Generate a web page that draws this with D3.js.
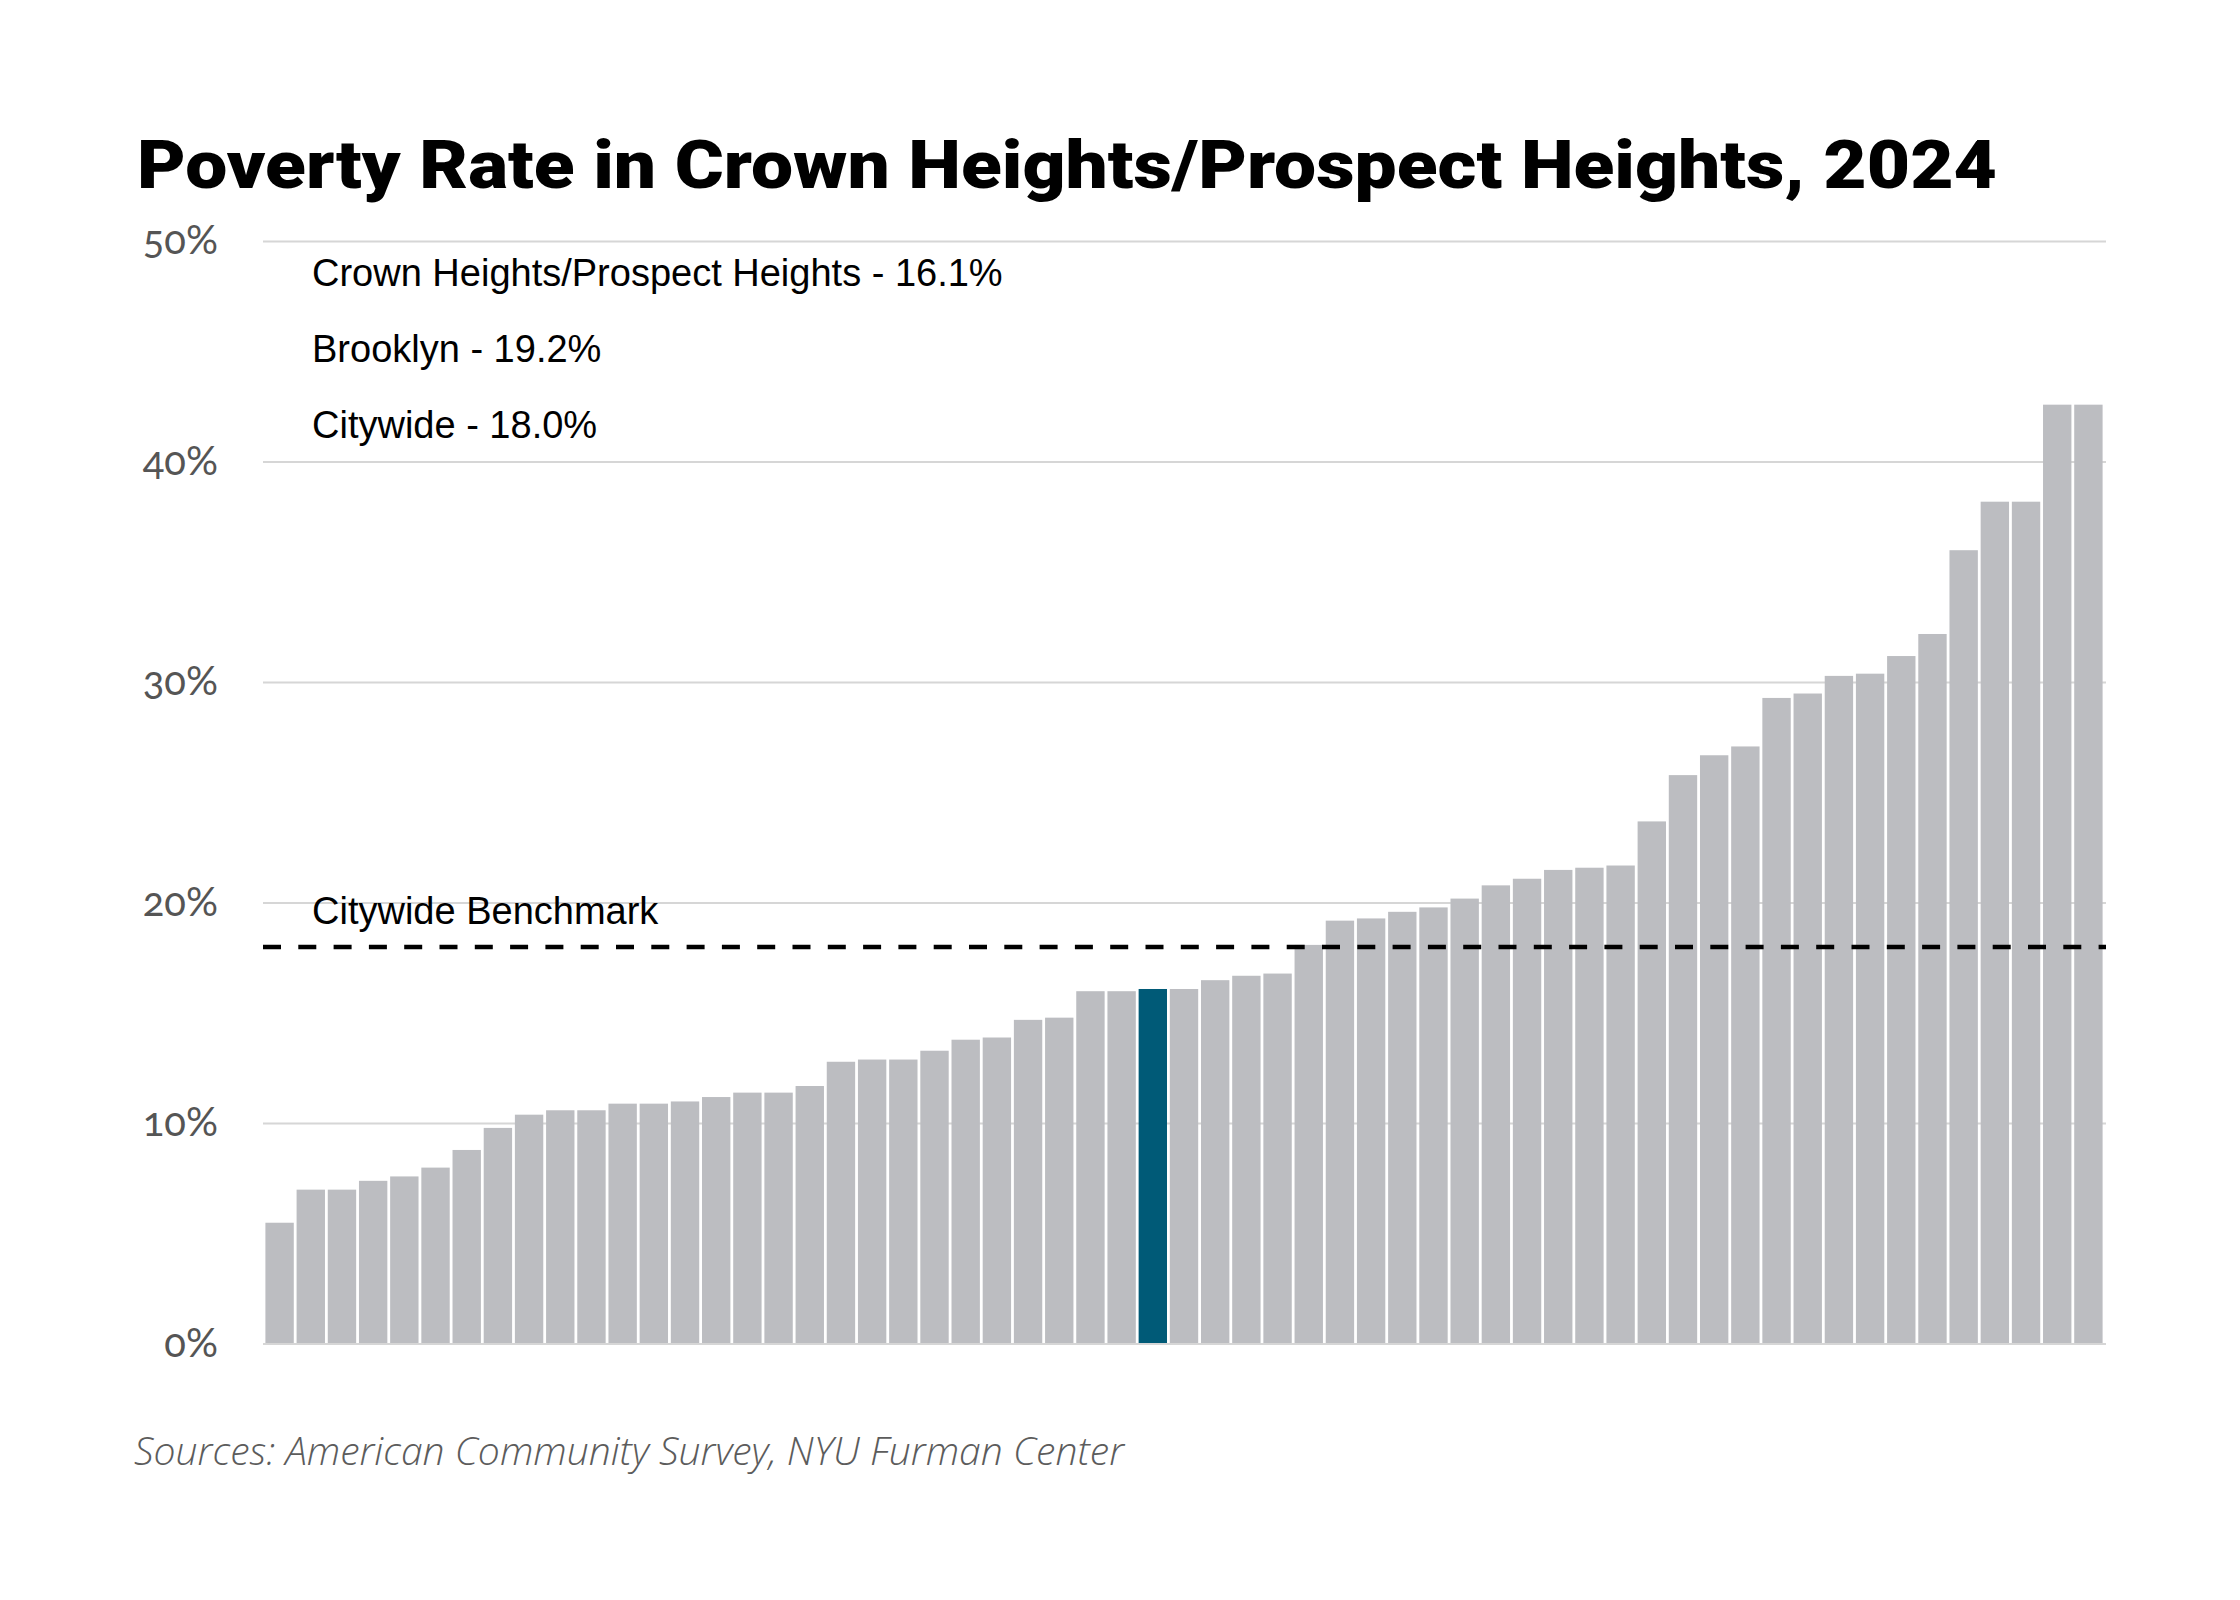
<!DOCTYPE html>
<html>
<head>
<meta charset="utf-8">
<script src="https://cdn.jsdelivr.net/npm/d3@7"></script>
<style>
  html, body { margin: 0; padding: 0; background: #fff; }
  svg { display: block; }
</style>
</head>
<body>
<svg id="chart" width="2240" height="1600"></svg>
<script>
// Poverty rate by community district, sorted ascending (percent)
const rates = [
  5.5, 7.0, 7.0, 7.4, 7.6, 8.0, 8.8, 9.8, 10.4, 10.6,
  10.6, 10.9, 10.9, 11.0, 11.2, 11.4, 11.4, 11.7, 12.8, 12.9,
  12.9, 13.3, 13.8, 13.9, 14.7, 14.8, 16.0, 16.0, 16.1, 16.1,
  16.5, 16.7, 16.8, 18.1, 19.2, 19.3, 19.6, 19.8, 20.2, 20.8,
  21.1, 21.5, 21.6, 21.7, 23.7, 25.8, 26.7, 27.1, 29.3, 29.5,
  30.3, 30.4, 31.2, 32.2, 36.0, 38.2, 38.2, 42.6, 42.6
];
const highlightIndex = 28; // Crown Heights/Prospect Heights
const benchmark = 18.0;
const yTicks = [0, 10, 20, 30, 40, 50];
const legendLines = [
  "Crown Heights/Prospect Heights - 16.1%",
  "Brooklyn - 19.2%",
  "Citywide - 18.0%"
];
const title = "Poverty Rate in Crown Heights/Prospect Heights, 2024";
const source = "Sources: American Community Survey, NYU Furman Center";

const PLOT = { left: 264, right: 2104, top: 241.5, bottom: 1344 };
const BAR_COLOR = "#bcbdc1";
const HIGHLIGHT_COLOR = "#005a77";
const GRID_COLOR = "#d6d6d6";

const svg = d3.select("#chart");

const x = d3
  .scaleBand()
  .domain(rates.map((_, i) => i))
  .range([PLOT.left, PLOT.right])
  .paddingInner(0.09)
  .paddingOuter(0.045);
const y = d3
  .scaleLinear()
  .domain([0, 50])
  .range([PLOT.bottom, PLOT.top]);

// Title
svg
  .append("text")
  .text(title)
  .attr("x", 137)
  .attr("y", 188)
  .attr("font-family", "Roboto, 'Liberation Sans', sans-serif")
  .attr("font-weight", 900)
  .attr("font-size", 66)
  .attr("fill", "#000")
  .attr("textLength", 1860)
  .attr("lengthAdjust", "spacingAndGlyphs");

// Gridlines + y axis
const yAxis = d3
  .axisLeft(y)
  .tickValues(yTicks)
  .tickSize(0)
  .tickPadding(0)
  .tickFormat(d => `${d}%`);
const axis = svg
  .append("g")
  .attr("transform", `translate(${PLOT.left - 46}, 0)`)
  .call(yAxis);
axis.select(".domain").remove();
axis
  .selectAll("text")
  .attr("font-family", "Lato, 'Open Sans', sans-serif")
  .attr("font-size", 40)
  .attr("fill", "#555")
  .attr("dy", "0.3em")
  .style("font-variant-numeric", "oldstyle-nums");

svg
  .append("g")
  .selectAll("line")
  .data(yTicks)
  .join("line")
  .attr("x1", PLOT.left - 1)
  .attr("x2", PLOT.right + 2)
  .attr("y1", d => y(d))
  .attr("y2", d => y(d))
  .attr("stroke", GRID_COLOR)
  .attr("stroke-width", 2);

// Bars
svg
  .append("g")
  .selectAll("rect")
  .data(rates)
  .join("rect")
  .attr("x", (_, i) => x(i))
  .attr("width", x.bandwidth())
  .attr("y", d => y(d))
  .attr("height", d => y(0) - y(d) - 1)
  .attr("fill", (_, i) => (i === highlightIndex ? HIGHLIGHT_COLOR : BAR_COLOR));

// Benchmark line
svg
  .append("line")
  .attr("x1", PLOT.left - 1)
  .attr("x2", PLOT.right + 2)
  .attr("y1", y(benchmark))
  .attr("y2", y(benchmark))
  .attr("stroke", "#000")
  .attr("stroke-width", 4.5)
  .attr("stroke-dasharray", "18 17.3");

svg
  .append("text")
  .text("Citywide Benchmark")
  .attr("x", 312)
  .attr("y", y(benchmark) - 23)
  .attr("font-family", "'Liberation Sans', Arial, sans-serif")
  .attr("font-size", 38)
  .attr("fill", "#000");

// Legend
svg
  .append("g")
  .selectAll("text")
  .data(legendLines)
  .join("text")
  .text(d => d)
  .attr("x", 312)
  .attr("y", (_, i) => 286 + i * 76)
  .attr("font-family", "'Liberation Sans', Arial, sans-serif")
  .attr("font-size", 38)
  .attr("fill", "#000");

// Source
svg
  .append("text")
  .text(source)
  .attr("x", 134)
  .attr("y", 1465)
  .attr("font-family", "'Open Sans', sans-serif")
  .attr("font-style", "italic")
  .attr("font-weight", 300)
  .attr("font-size", 38)
  .attr("fill", "#5c5c5c")
  .attr("textLength", 990)
  .attr("lengthAdjust", "spacingAndGlyphs");
</script>
</body>
</html>
